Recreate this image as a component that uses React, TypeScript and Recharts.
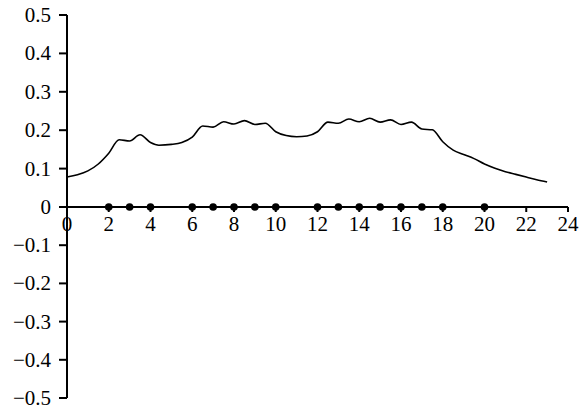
import React from 'react';
import { ComposedChart, Line, Scatter, XAxis, YAxis } from 'recharts';

const curveX = [0, 0.5, 1, 1.5, 2, 2.5, 3, 3.5, 4, 4.4, 5, 5.5, 6, 6.5, 7, 7.5, 8, 8.5, 9, 9.5, 10, 10.5, 11, 11.5, 12, 12.5, 13, 13.5, 14, 14.5, 15, 15.5, 16, 16.5, 17, 17.5, 18, 18.5, 19, 19.5, 20, 20.5, 21, 21.5, 22, 22.5, 23];
const curveY = [0.078, 0.084, 0.094, 0.112, 0.14, 0.175, 0.172, 0.188, 0.168, 0.161, 0.163, 0.168, 0.182, 0.211, 0.208, 0.222, 0.216, 0.225, 0.215, 0.218, 0.196, 0.186, 0.183, 0.185, 0.196, 0.221, 0.218, 0.229, 0.222, 0.231, 0.221, 0.227, 0.215, 0.221, 0.203, 0.201, 0.17, 0.148, 0.137, 0.126, 0.112, 0.101, 0.092, 0.085, 0.078, 0.071, 0.065];
const dotX = [2, 3, 4, 6, 7, 8, 9, 10, 12, 13, 14, 15, 16, 17, 18, 20];
const xTicks = [0, 2, 4, 6, 8, 10, 12, 14, 16, 18, 20, 22, 24];
const yTicksUpper = [0, 0.1, 0.2, 0.3, 0.4, 0.5];
const yTicksLower = [-0.5, -0.4, -0.3, -0.2, -0.1];

const curve = curveX.map((x, i) => ({ x, y: curveY[i] }));
const dots = dotX.map((x) => ({ x, y: 0 }));

const FONT = '"Liberation Serif", "Times New Roman", serif';
const axisLine = { stroke: '#000', strokeWidth: 2 };
const fmt = (v: number) => (v === 0 ? '0' : String(v).replace('-', '\u2212'));

const YTick = (p: any) => (
  <text x={p.x} y={p.y} dy={7} textAnchor="end" fontFamily={FONT} fontSize={21} fill="#000">
    {fmt(p.payload.value)}
  </text>
);

const XTick = (p: any) => (
  <text x={p.x} y={p.y} dy={16} textAnchor="middle" fontFamily={FONT} fontSize={21} fill="#000">
    {p.payload.value}
  </text>
);

export default function App() {
  return (
    <div style={{ position: 'absolute', left: 0, top: 0, width: 581, height: 410, background: '#fff' }}>
      <div style={{ position: 'absolute', left: 0, top: 207 }}>
        <ComposedChart width={581} height={203} margin={{ top: 0, right: 13, bottom: 12, left: 0 }}>
          <XAxis dataKey="x" type="number" domain={[0, 24]} hide />
          <YAxis
            type="number"
            domain={[-0.5, 0]}
            ticks={yTicksLower}
            width={67}
            tickSize={8}
            tickMargin={8}
            tick={<YTick />}
            axisLine={axisLine}
            tickLine={axisLine}
            interval={0}
          />
          <Line data={dots} dataKey="y" stroke="none" dot={false} isAnimationActive={false} />
        </ComposedChart>
      </div>
      <div style={{ position: 'absolute', left: 0, top: 0 }}>
        <ComposedChart width={581} height={240} margin={{ top: 15, right: 13, bottom: 0, left: 0 }} style={{ overflow: 'visible' }}>
          <XAxis
            dataKey="x"
            type="number"
            domain={[0, 24]}
            ticks={xTicks}
            height={33}
            tickSize={5}
            tickMargin={3}
            tick={<XTick />}
            axisLine={axisLine}
            tickLine={axisLine}
            interval={0}
          />
          <YAxis
            type="number"
            domain={[0, 0.5]}
            ticks={yTicksUpper}
            width={67}
            tickSize={8}
            tickMargin={8}
            tick={<YTick />}
            axisLine={axisLine}
            tickLine={axisLine}
            interval={0}
          />
          <Line data={curve} dataKey="y" type="monotone" stroke="#000" strokeWidth={1.6} dot={false} isAnimationActive={false} />
          <Scatter data={dots} dataKey="y" fill="#000" shape={(p: any) => <circle cx={p.cx} cy={p.cy} r={3.8} fill="#000" />} isAnimationActive={false} />
        </ComposedChart>
      </div>
    </div>
  );
}
